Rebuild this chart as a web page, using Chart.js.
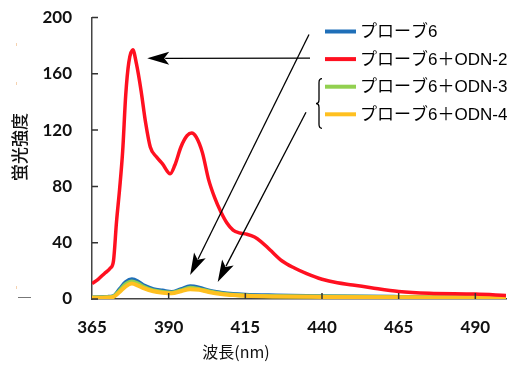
<!DOCTYPE html>
<html>
<head>
<meta charset="utf-8">
<script src="https://cdn.jsdelivr.net/npm/chart.js@4.4.1/dist/chart.umd.min.js"></script>
<style>
  html, body { margin: 0; padding: 0; background: #fff; }
  #wrap { width: 515px; height: 365px; }
</style>
</head>
<body>
<div id="wrap"><canvas id="chart" width="515" height="365"></canvas></div>
<script>
// legend labels
const seriesNames = ["プローブ6", "プローブ6＋ODN-2", "プローブ6＋ODN-3", "プローブ6＋ODN-4"];
const seriesColors = ["#1f6fb8", "#ff1020", "#92d050", "#ffc020"];

// red curve (プローブ6＋ODN-2)
const odn2Nm = [365, 367, 369, 371, 372, 373, 374, 375, 376, 377, 378.3, 379.5, 381, 382.5, 384, 386, 388, 390.5,
  392, 394, 396, 397.5, 399, 401, 403, 405, 407, 409, 411, 413, 415.5, 418, 420, 423, 427, 431, 435, 440,
  445, 450, 456, 465, 475, 490, 500];
const odn2Val = [11, 14, 18, 22, 27, 55, 78, 105, 145, 168, 177, 167, 148, 125, 108, 101, 96, 89,
  95, 108, 116, 118, 115, 104, 85, 72, 62, 54, 49, 47, 46, 44, 41, 35, 27, 22, 18, 14,
  11.5, 10, 8, 5.3, 4, 3.5, 2.5];

// weak curves
const baseNm = [365, 370, 372, 374, 376, 378, 380, 382, 385, 388, 391, 394, 397, 400, 403, 407, 411, 415, 425, 440, 465, 500];
const probe6 = [1, 1.5, 2, 7, 12, 14, 12.5, 9.5, 7, 6, 5, 7, 9, 8, 6, 4.5, 3.5, 3, 2.5, 2, 1.5, 1];
const odn3 = [1, 1.2, 1.8, 6, 10.5, 12.5, 11, 8.5, 6, 5, 4.5, 6, 8, 7, 5.5, 4, 3, 2.5, 2, 1.8, 1.3, 1];
const odn4 = [0.8, 1, 1.5, 5, 9, 11, 9.5, 7.5, 5.5, 4.5, 4, 5.5, 7, 6.5, 5, 3.5, 2.8, 2.3, 1.8, 1.5, 1.2, 0.8];

// axis ticks
const xTicks = [365, 390, 415, 440, 465, 490];
const yTicks = [0, 40, 80, 120, 160, 200];

const pts = (xs, ys) => xs.map((x, i) => ({ x: x, y: ys[i] }));

const tickFont = { family: "Lato", weight: "bold", size: 17 };

function arrow(ctx, x1, y1, x2, y2) {
  // line from (x1,y1) to tip (x2,y2) with a stealth head
  const a = Math.atan2(y2 - y1, x2 - x1);
  const len = 22, hw = 6.5;
  const bx = x2 - len * Math.cos(a), by = y2 - len * Math.sin(a);
  ctx.beginPath();
  ctx.moveTo(x1, y1);
  ctx.lineTo(bx + 4 * Math.cos(a), by + 4 * Math.sin(a));
  ctx.stroke();
  ctx.beginPath();
  ctx.moveTo(x2, y2);
  ctx.lineTo(bx - hw * Math.sin(a), by + hw * Math.cos(a));
  ctx.lineTo(bx + 5 * Math.cos(a), by + 5 * Math.sin(a));
  ctx.lineTo(bx + hw * Math.sin(a), by - hw * Math.cos(a));
  ctx.closePath();
  ctx.fill();
}

const decor = {
  id: "decor",
  afterDraw(chart) {
    const ctx = chart.ctx;
    const xs = chart.scales.x, ys = chart.scales.y;
    const area = chart.chartArea;
    ctx.save();

    // inner tick marks
    ctx.strokeStyle = "#333";
    ctx.lineWidth = 1.5;
    ctx.beginPath();
    yTicks.forEach(v => {
      const py = ys.getPixelForValue(v);
      ctx.moveTo(area.left, py);
      ctx.lineTo(area.left + 6, py);
    });
    xTicks.forEach(v => {
      if (v === 365) return;
      const px = xs.getPixelForValue(v);
      ctx.moveTo(px, area.bottom);
      ctx.lineTo(px, area.bottom - 6);
    });
    ctx.stroke();

    // axis titles
    ctx.fillStyle = "#111";
    ctx.font = '16px "Noto Sans CJK JP"';
    ctx.textAlign = "center";
    ctx.textBaseline = "middle";
    ctx.fillText("波長(nm)", 236, 352);
    ctx.save();
    ctx.translate(20, 147);
    ctx.rotate(-Math.PI / 2);
    ctx.font = '500 17px "Noto Sans CJK JP"';
    ctx.fillText("蛍光強度", 0, 0);
    ctx.restore();

    // legend
    const lx = 325, ly = 31.5, rowH = 27.6;
    ctx.textAlign = "left";
    ctx.font = '17px "Liberation Sans", "Noto Sans CJK JP"';
    seriesNames.forEach((name, i) => {
      const y = ly + i * rowH;
      ctx.strokeStyle = seriesColors[i];
      ctx.lineWidth = 4;
      ctx.beginPath();
      ctx.moveTo(lx, y);
      ctx.lineTo(lx + 31, y);
      ctx.stroke();
      ctx.fillStyle = "#000";
      ctx.fillText(name, lx + 35, y + 1);
    });

    // brace for ODN-3 / ODN-4
    const bx = 319, bt = ly + 2 * rowH - 8, bb = ly + 3 * rowH + 14, bm = (bt + bb) / 2;
    ctx.strokeStyle = "#000";
    ctx.lineWidth = 1.3;
    ctx.beginPath();
    ctx.moveTo(bx + 3, bt);
    ctx.quadraticCurveTo(bx, bt, bx, bt + 4);
    ctx.lineTo(bx, bm - 4);
    ctx.quadraticCurveTo(bx, bm, bx - 3, bm);
    ctx.quadraticCurveTo(bx, bm, bx, bm + 4);
    ctx.lineTo(bx, bb - 4);
    ctx.quadraticCurveTo(bx, bb, bx + 3, bb);
    ctx.stroke();

    // arrows pointing at the peaks
    ctx.strokeStyle = "#000";
    ctx.fillStyle = "#000";
    ctx.lineWidth = 1.3;
    arrow(ctx, lx - 15, ly + rowH - 1, xs.getPixelForValue(383), ys.getPixelForValue(171));
    arrow(ctx, lx - 16, ly + 3, xs.getPixelForValue(397), ys.getPixelForValue(17));
    arrow(ctx, lx - 19, ly + 3 * rowH - 2, xs.getPixelForValue(406), ys.getPixelForValue(12));

    // stray marks at the far left
    ctx.strokeStyle = "#777";
    ctx.lineWidth = 1;
    ctx.beginPath();
    ctx.moveTo(18, 297.5);
    ctx.lineTo(31, 297.5);
    ctx.stroke();
    ctx.fillStyle = "#f5d2b0";
    [44, 83, 287].forEach(y => ctx.fillRect(16, y - 1, 1, 3));

    ctx.restore();
  }
};

new Chart(document.getElementById("chart"), {
  type: "line",
  data: {
    datasets: [
      { label: seriesNames[0], data: pts(baseNm, probe6), borderColor: seriesColors[0], borderWidth: 4, order: 3 },
      { label: seriesNames[1], data: pts(odn2Nm, odn2Val), borderColor: seriesColors[1], borderWidth: 3.5, order: 0 },
      { label: seriesNames[2], data: pts(baseNm, odn3), borderColor: seriesColors[2], borderWidth: 4, order: 2 },
      { label: seriesNames[3], data: pts(baseNm, odn4), borderColor: seriesColors[3], borderWidth: 4, order: 1 },
    ],
  },
  options: {
    responsive: false,
    animation: false,
    elements: { point: { radius: 0 }, line: { cubicInterpolationMode: "monotone", fill: false } },
    layout: { padding: { top: 17.5, right: 9, left: 0, bottom: 0 } },
    plugins: { legend: { display: false }, tooltip: { enabled: false } },
    scales: {
      x: {
        type: "linear",
        min: 365,
        max: 500,
        grid: { display: false, drawTicks: false },
        border: { display: true, color: "#444", width: 1.5 },
        afterBuildTicks: s => { s.ticks = xTicks.map(v => ({ value: v })); },
        afterFit: s => { s.height = 66; s.paddingLeft = 0; s.paddingRight = 0; },
        ticks: { color: "#111", font: tickFont, padding: 18, maxRotation: 0 },
      },
      y: {
        min: 0,
        max: 200,
        grid: { display: false, drawTicks: false },
        border: { display: true, color: "#444", width: 1.5 },
        afterBuildTicks: s => { s.ticks = yTicks.map(v => ({ value: v })); },
        afterFit: s => { s.width = 92; s.paddingTop = 0; s.paddingBottom = 0; },
        ticks: { color: "#111", font: tickFont, padding: 20 },
      },
    },
  },
  plugins: [decor],
});
</script>
</body>
</html>
